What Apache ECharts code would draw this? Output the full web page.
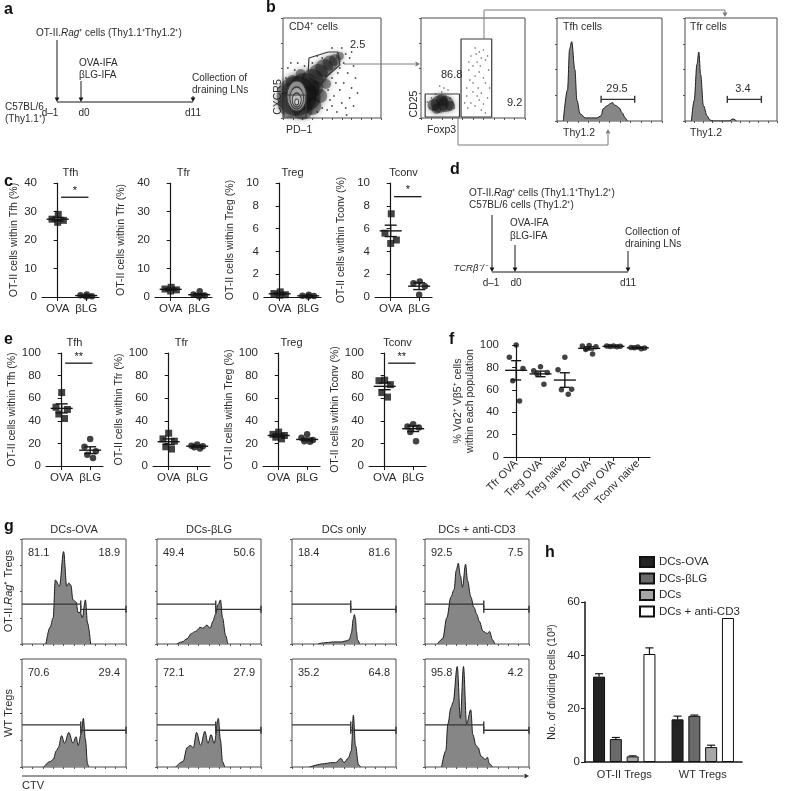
<!DOCTYPE html>
<html><head><meta charset="utf-8">
<script src="https://cdn.jsdelivr.net/npm/echarts@6/dist/echarts.min.js"></script>
<style>html,body{margin:0;padding:0;background:#fff}#c{width:788px;height:791px}</style>
</head><body><div id="c"></div>
<script>
const F = '"Liberation Sans", Arial, Helvetica, sans-serif';
const TXT = '#2b2b2b', INK = '#161616';

/* ================= DATA ================= */
/* panel c */
const cCats = ['OVA', 'βLG'];
const cTitles = ['Tfh', 'Tfr', 'Treg', 'Tconv'];
const cYNames = ['OT-II cells within Tfh (%)', 'OT-II cells within Tfr (%)', 'OT-II cells within Treg (%)', 'OT-II cells within Tconv (%)'];
const cYMax = [40, 40, 10, 10];
const cYStep = [10, 10, 2, 2];
const cTfhOVA = [29.0, 27.3, 26.9, 26.2];
const cTfhBLG = [0.9, 0.6, 0.3, 0.2];
const cTfrOVA = [3.4, 2.8, 2.5, 2.1];
const cTfrBLG = [2.0, 0.9, 0.5, 0.2];
const cTregOVA = [0.45, 0.3, 0.2, 0.15];
const cTregBLG = [0.2, 0.1, 0.08, 0.05];
const cTconvOVA = [7.3, 5.6, 5.0, 4.7];
const cTconvBLG = [1.35, 1.2, 0.95, 0.2];
const cMean = [[27.3, 0.5], [2.7, 0.8], [0.28, 0.1], [5.8, 0.95]];
const cSem = [[0.6, 0.15], [0.3, 0.4], [0.07, 0.03], [0.5, 0.3]];
const cSigLabel = ['*', '', '', '*'];
const cSigY = [35, null, null, 8.8];

/* panel e */
const eYMax = [100, 100, 100, 100];
const eYStep = [20, 20, 20, 20];
const eTfhOVA = [65, 52, 50, 46, 42];
const eTfhBLG = [24, 17, 13, 10, 7];
const eTfrOVA = [29, 24, 22, 17, 15];
const eTfrBLG = [19, 18, 17.5, 16.5, 15.5];
const eTregOVA = [30, 28, 27, 25.5, 24];
const eTregBLG = [28, 25, 23, 22, 21.5];
const eTconvOVA = [76, 75.5, 72, 65, 61];
const eTconvBLG = [37, 35, 34, 30, 22];
const eMean = [[51, 14], [21.5, 17.5], [27, 23.5], [70.5, 33]];
const eSem = [[4, 3], [2.5, 0.7], [1.2, 1.2], [3, 2.5]];
const eSigLabel = ['**', '', '', '**'];
const eSigY = [91, null, null, 91];

/* panel f */
const fCats = ['Tfr OVA', 'Treg OVA', 'Treg naive', 'Tfh OVA', 'Tconv OVA', 'Tconv naive'];
const fTfrOVA = [100, 89, 79, 68, 50];
const fTregOVA = [80.5, 77, 75.5, 74, 65];
const fTregNaive = [89, 78, 60.5, 60, 56];
const fTfhOVA = [99.5, 99, 98.5, 96, 92];
const fTconvOVA = [99.2, 99, 98.8, 98.6, 98.4];
const fTconvNaive = [98.2, 97.8, 97.4, 97.6, 96.6];
const fMean = [77.4, 74.2, 68.7, 97, 98.8, 97.5];
const fSem = [8.6, 2.5, 6.5, 1.4, 0.2, 0.3];

/* panel h */
const hCats = ['OT-II Tregs', 'WT Tregs'];
const hNames = ['DCs-OVA', 'DCs-βLG', 'DCs', 'DCs + anti-CD3'];
const hOVA = [32, 16];
const hBLG = [8.6, 17.3];
const hDC = [2.1, 5.6];
const hCD3 = [40.5, 54];
const hOVAErr = [1.1, 1.2];
const hBLGErr = [0.6, 0.3];
const hDCErr = [0.2, 0.7];
const hCD3Err = [2.3, 0];

/* panel g histograms: [CTV %, count %] */
const gColTitles = ['DCs-OVA', 'DCs-βLG', 'DCs only', 'DCs + anti-CD3'];
const gOtOVA = [[23,0],[27,16],[30,25],[32,61],[36,55],[40,88],[43,55],[45,58],[47,56],[49,42],[52,40],[54,30],[56,30],[58,25],[61,42],[63,20],[66,0]];
const gOtBLG = [[19,0],[24,2],[29,5],[33,10],[37,12],[40,14],[41,16],[44,15],[48,18],[51,15],[54,22],[56,28],[59,38],[61,42],[63,25],[66,8],[68,0]];
const gOtDC = [[25,0],[30,1],[40,2],[48,2],[52,3],[55,4],[57,10],[59,24],[60,28],[61,24],[62,12],[63,4],[65,0]];
const gOtCD3 = [[12,0],[17,5],[21,25],[25,45],[28,52],[30,70],[32,77],[34,65],[36,54],[39,76],[41,60],[44,45],[47,35],[50,28],[52,22],[56,12],[60,10],[62,12],[65,4],[67,0]];
const gWtOVA = [[21,0],[27,5],[30,7],[33,15],[35,18],[38,29],[41,22],[45,32],[49,22],[52,28],[54,20],[57,31],[59,45],[61,25],[63,3],[64,0]];
const gWtBLG = [[18,0],[25,5],[29,18],[32,20],[35,18],[38,32],[42,20],[46,33],[49,22],[52,30],[55,22],[59,45],[61,25],[63,5],[65,0]];
const gWtDC = [[17,0],[31,3],[37,4],[42,4],[47,8],[50,4],[54,8],[57,15],[59,48],[61,20],[64,2],[66,0]];
const gWtCD3 = [[16,0],[20,15],[22,40],[25,55],[27,60],[31,93],[34,45],[37,93],[40,40],[44,53],[46,30],[49,20],[51,18],[54,10],[58,7],[60,9],[62,3],[65,0]];
const gLeftPct = ['81.1', '49.4', '18.4', '92.5', '70.6', '72.1', '35.2', '95.8'];
const gRightPct = ['18.9', '50.6', '81.6', '7.5', '29.4', '27.9', '64.8', '4.2'];
const gGateSplit = 56.5;
const gGateY = [[38, 33], [39, 34]];

/* panel b */
const bTfhHist = [[6,0],[10,30],[12,70],[14,77],[17,50],[19,20],[22,7],[27,3],[33,3],[38,3],[42,5],[44,12],[48,15],[51,17],[53,18],[54,16],[56,15],[59,13],[62,8],[65,3],[67,0]];
const bTfrHist = [[7,0],[10,20],[13,55],[15,67],[17,45],[20,15],[24,5],[27,1],[31,0],[48,0],[52,2],[56,0]];
const bTfhGate = [[42,21],[74,21]];
const bTfrGate = [[46,21],[83,21]];
const bCd4Blobs = [[14,22,40],[22,30,30],[8,14,26],[26,20,24],[30,38,22],[36,44,20],[42,50,18],[48,55,15],[53,58,12],[30,12,18],[38,22,14],[10,36,14],[18,44,10],[44,34,10],[58,62,8],[20,8,20],[6,28,14],[34,30,14]];
const bCd4Contours = [[14,22,10,15],[14,20,7,11],[14,18,4.5,7],[14,16,2,3]];
const bCd4Dots = [[45,8],[50,12],[55,6],[60,15],[64,10],[68,20],[52,22],[58,28],[62,35],[70,30],[48,18],[66,45],[72,52],[56,45],[62,55],[68,60],[40,60],[30,55],[22,52],[15,55],[12,48],[35,62],[50,70],[60,70],[74,40],[76,25],[44,42],[50,40],[3,40],[5,50],[8,55],[46,28],[54,35],[40,10],[35,6],[65,3],[72,12],[58,50],[64,64],[70,66]];
const bCd4Gate = [[25.5,43],[26.5,60],[46,66],[56,66],[58,53],[38,36],[25.5,43]];
const bCd4Rect = [[1,1],[23.5,1],[23.5,23],[1,23],[1,1]];
const bFoxBlobs = [[18,14,18],[24,14,16],[12,13,12],[20,18,12],[28,12,10],[15,9,10]];
const bFoxDots = [[8,10],[10,20],[14,24],[20,26],[24,22],[28,20],[30,16],[32,10],[6,16],[26,28],[22,30],[18,32],[45,10],[48,15],[52,12],[56,18],[60,14],[64,20],[44,22],[50,26],[55,30],[58,25],[62,35],[47,38],[52,42],[56,46],[60,40],[65,48],[50,52],[54,56],[58,60],[48,62],[56,66],[52,70],[62,58],[44,30],[46,48],[66,30],[42,15],[58,8],[62,5],[54,22],[50,35],[57,52],[53,64],[60,68],[64,62],[46,56]];
const bFoxRectL = [[4,1],[37,1],[37,24],[4,24],[4,1]];
const bFoxRectR = [[38.5,1],[68,1],[68,79],[38.5,79],[38.5,1]];

/* ================= BUILD ================= */
const grids = [], xAxes = [], yAxes = [], series = [], G = [];
function addGrid(l, t, w, h, extra) {
  grids.push(Object.assign({left: l, top: t, width: w, height: h, containLabel: false, outerBoundsMode: 'none'}, extra || {}));
  return grids.length - 1;
}
function txt(x, y, text, o) {
  o = o || {};
  const font = (o.italic ? 'italic ' : '') + (o.bold ? 'bold ' : '') + (o.size || 11) + 'px ' + F;
  const st = {text: text, font: font, fill: o.color || TXT, align: o.align || 'left', verticalAlign: o.va || 'middle',
    textAlign: o.align || 'left', textVerticalAlign: o.va || 'middle'};
  if (o.rich) st.rich = o.rich;
  return {type: 'text', x: x, y: y, rotation: o.rot || 0, style: st, z: 20};
}
function richStyles(size) {
  return {n: {fontSize: size, fontFamily: F, fill: TXT, color: TXT},
          i: {fontSize: size, fontFamily: F, fontStyle: 'italic', fill: TXT, color: TXT}};
}
function ln(x1, y1, x2, y2, c, w) {
  return {type: 'line', shape: {x1: x1, y1: y1, x2: x2, y2: y2}, style: {stroke: c || INK, lineWidth: w || 1}, z: 15};
}
function head(x, y, dir, c) {
  const s = 4.5, h = 2.4;
  let p;
  if (dir === 'down') p = [[x - h, y - s], [x + h, y - s], [x, y]];
  else if (dir === 'up') p = [[x - h, y + s], [x + h, y + s], [x, y]];
  else p = [[x - s, y - h], [x - s, y + h], [x, y]];
  return {type: 'polygon', shape: {points: p}, style: {fill: c || INK}, z: 15};
}

/* ---------- dot plots (c, e) ---------- */
const JIT4 = [0.02, -0.2, 0.2, 0];
const JIT5 = [0, -0.2, 0.2, -0.1, 0.1];
function meanSem(halfM, halfC) {
  return function (params, api) {
    const x = api.value(0), m = api.value(1), s = api.value(2);
    const c = api.coord([x, m]), t = api.coord([x, m + s]), b = api.coord([x, Math.max(m - s, 0)]);
    const st = {stroke: INK, lineWidth: 1.4};
    const ch = [{type: 'line', shape: {x1: c[0] - halfM, y1: c[1], x2: c[0] + halfM, y2: c[1]}, style: st}];
    if (s > 0) {
      ch.push({type: 'line', shape: {x1: c[0], y1: t[1], x2: c[0], y2: b[1]}, style: st});
      ch.push({type: 'line', shape: {x1: c[0] - halfC, y1: t[1], x2: c[0] + halfC, y2: t[1]}, style: st});
      ch.push({type: 'line', shape: {x1: c[0] - halfC, y1: b[1], x2: c[0] + halfC, y2: b[1]}, style: st});
    }
    return {type: 'group', children: ch};
  };
}
function sigRender(label) {
  return function (params, api) {
    const a = api.coord([api.value(0), api.value(2)]), b = api.coord([api.value(1), api.value(2)]);
    return {type: 'group', children: [
      {type: 'line', shape: {x1: a[0], y1: a[1], x2: b[0], y2: b[1]}, style: {stroke: INK, lineWidth: 1.3}},
      {type: 'text', x: (a[0] + b[0]) / 2, y: a[1] - 1, style: {text: label, font: '11px ' + F, fill: INK, align: 'center', verticalAlign: 'bottom', textAlign: 'center', textVerticalAlign: 'bottom'}}
    ]};
  };
}
function axisBase() {
  return {splitLine: {show: false}, axisLine: {show: true, lineStyle: {color: INK, width: 1.2}},
    axisTick: {show: true, length: 4, lineStyle: {color: INK, width: 1}},
    axisLabel: {fontSize: 11.5, color: TXT, fontFamily: F, margin: 5}};
}
function dotPlot(rect, title, yName, yMax, yStep, ova, blg, means, sems, sigLabel, sigY, nameGap) {
  const gi = addGrid(rect[0], rect[1], rect[2], rect[3]);
  const xa = axisBase();
  Object.assign(xa, {gridIndex: gi, type: 'value', min: -0.55, max: 1.45});
  xa.axisTick = {show: true, length: 4, customValues: [0, 1], lineStyle: {color: INK}};
  xa.axisLabel = {fontSize: 11.5, color: TXT, fontFamily: F, margin: 6, customValues: [0, 1], formatter: function (v) { return cCats[Math.round(v)]; }};
  xAxes.push(xa);
  const ya = axisBase();
  Object.assign(ya, {gridIndex: gi, type: 'value', min: 0, max: yMax, interval: yStep, name: yName, nameLocation: 'middle', nameGap: nameGap,
    nameTextStyle: {fontSize: 10.5, color: TXT, fontFamily: F}});
  yAxes.push(ya);
  const j1 = ova.length === 4 ? JIT4 : JIT5, j2 = blg.length === 4 ? JIT4 : JIT5;
  series.push({type: 'scatter', xAxisIndex: gi, yAxisIndex: gi, symbol: 'rect', symbolSize: 7, itemStyle: {color: '#141414'},
    data: ova.map(function (v, i) { return [j1[i], v]; }), z: 3, silent: true});
  series.push({type: 'scatter', xAxisIndex: gi, yAxisIndex: gi, symbol: 'circle', symbolSize: 6.5, itemStyle: {color: '#141414'},
    data: blg.map(function (v, i) { return [1 + j2[i], v]; }), z: 3, silent: true});
  series.push({type: 'custom', xAxisIndex: gi, yAxisIndex: gi, renderItem: meanSem(11, 6), z: 4, silent: true,
    data: means.map(function (m, i) { return [i, m, sems[i]]; })});
  if (sigY != null) {
    series.push({type: 'custom', xAxisIndex: gi, yAxisIndex: gi, renderItem: sigRender(sigLabel), z: 4, silent: true,
      data: [[0.12, 1.08, sigY]]});
  }
  G.push(txt(rect[0] + rect[2] / 2, rect[1] - 10, title, {align: 'center', size: 11}));
}
const cRects = [[42, 183, 57, 114], [155, 183, 57, 114], [264, 183, 57, 114], [375, 183, 57, 114]];
const cPts = [[cTfhOVA, cTfhBLG], [cTfrOVA, cTfrBLG], [cTregOVA, cTregBLG], [cTconvOVA, cTconvBLG]];
for (let k = 0; k < 4; k++) {
  dotPlot(cRects[k], cTitles[k], cYNames[k], cYMax[k], cYStep[k], cPts[k][0], cPts[k][1],
    cMean[k], cSem[k], cSigLabel[k], cSigY[k], k === 0 ? 22 : 28);
}
const eRects = [[46, 353, 57, 113], [153, 353, 57, 113], [263, 353, 57, 113], [369, 353, 57, 113]];
const ePts = [[eTfhOVA, eTfhBLG], [eTfrOVA, eTfrBLG], [eTregOVA, eTregBLG], [eTconvOVA, eTconvBLG]];
for (let k = 0; k < 4; k++) {
  dotPlot(eRects[k], cTitles[k], cYNames[k], eYMax[k], eYStep[k], ePts[k][0], ePts[k][1],
    eMean[k], eSem[k], eSigLabel[k], eSigY[k], 28);
}

/* ---------- panel f ---------- */
(function () {
  const gi = addGrid(504, 345, 146, 112);
  const xa = axisBase();
  Object.assign(xa, {gridIndex: gi, type: 'value', min: -0.5, max: 5.5});
  xa.axisTick = {show: true, length: 4, customValues: [0, 1, 2, 3, 4, 5], lineStyle: {color: INK}};
  xa.axisLabel = {fontSize: 11, color: TXT, fontFamily: F, margin: 5, rotate: 45, customValues: [0, 1, 2, 3, 4, 5],
    formatter: function (v) { return fCats[Math.round(v)]; }};
  xAxes.push(xa);
  const ya = axisBase();
  Object.assign(ya, {gridIndex: gi, type: 'value', min: 0, max: 100, interval: 20,
    name: '% Vα2⁺ Vβ5⁺ cells\nwithin each population', nameLocation: 'middle', nameGap: 27,
    nameTextStyle: {fontSize: 10.5, color: TXT, fontFamily: F, lineHeight: 12}});
  yAxes.push(ya);
  const groups = [fTfrOVA, fTregOVA, fTregNaive, fTfhOVA, fTconvOVA, fTconvNaive];
  const J = [0, -0.28, 0.28, -0.14, 0.14];
  const pts = [];
  groups.forEach(function (g, gIdx) { g.forEach(function (v, i) { pts.push([gIdx + J[i], v]); }); });
  series.push({type: 'scatter', xAxisIndex: gi, yAxisIndex: gi, symbolSize: 5.5, itemStyle: {color: '#141414'}, data: pts, z: 3, silent: true});
  series.push({type: 'custom', xAxisIndex: gi, yAxisIndex: gi, renderItem: meanSem(11, 5), z: 4, silent: true,
    data: fMean.map(function (m, i) { return [i, m, fSem[i]]; })});
})();

/* ---------- panel h ---------- */
(function () {
  const gi = addGrid(585, 602, 157, 160);
  const xa = axisBase();
  Object.assign(xa, {gridIndex: gi, type: 'category', data: hCats});
  xa.axisTick = {show: false};
  xa.axisLabel = {fontSize: 11, color: TXT, fontFamily: F, margin: 7};
  xa.axisLine = {show: true, lineStyle: {color: INK, width: 1.5}};
  xAxes.push(xa);
  const ya = axisBase();
  Object.assign(ya, {gridIndex: gi, type: 'value', min: 0, max: 60, interval: 20,
    name: 'No. of dividing cells (10³)', nameLocation: 'middle', nameGap: 27,
    nameTextStyle: {fontSize: 10.5, color: TXT, fontFamily: F}});
  ya.axisLine = {show: true, lineStyle: {color: INK, width: 1.5}};
  yAxes.push(ya);
  const vals = [hOVA, hBLG, hDC, hCD3], errs = [hOVAErr, hBLGErr, hDCErr, hCD3Err];
  const cols = ['#232323', '#6a6a6a', '#a6a6a6', '#ffffff'];
  vals.forEach(function (v, s) {
    series.push({type: 'bar', name: hNames[s], xAxisIndex: gi, yAxisIndex: gi, data: v, barWidth: 12, barGap: '40%',
      itemStyle: {color: cols[s], borderColor: '#111', borderWidth: 1}, silent: true});
  });
  errs.forEach(function (e, s) {
    series.push({type: 'custom', xAxisIndex: gi, yAxisIndex: gi, silent: true, z: 5,
      data: e.map(function (ev, i) { return [i, vals[s][i], ev]; }),
      renderItem: function (params, api) {
        const p = api.coord([api.value(0), api.value(1)]), q = api.coord([api.value(0), api.value(1) + api.value(2)]);
        const x = p[0] + (s - 1.5) * 16.8;
        if (api.value(2) <= 0) return {type: 'group', children: []};
        return {type: 'group', children: [
          {type: 'line', shape: {x1: x, y1: p[1], x2: x, y2: q[1]}, style: {stroke: INK, lineWidth: 1.2}},
          {type: 'line', shape: {x1: x - 4, y1: q[1], x2: x + 4, y2: q[1]}, style: {stroke: INK, lineWidth: 1.2}}]};
      }});
  });
})();

/* ---------- flow boxes ---------- */
function flowGrid(l, t, w, h) {
  const gi = addGrid(l, t, w, h, {show: true, borderColor: '#4a4a4a', borderWidth: 1});
  const base = {gridIndex: gi, type: 'value', min: 0, max: 100, splitLine: {show: false}, axisLine: {show: false},
    axisLabel: {show: false}, axisTick: {show: true, inside: false, length: 2, lineStyle: {color: '#555'}}};
  xAxes.push(Object.assign({}, base, {interval: 10}));
  yAxes.push(Object.assign({}, base, {interval: 25}));
  return gi;
}
function histSeries(gi, data) {
  series.push({type: 'line', xAxisIndex: gi, yAxisIndex: gi, data: data, symbol: 'none', smooth: 0.35, smoothMonotone: 'x', silent: true,
    lineStyle: {color: '#1e1e1e', width: 1}, areaStyle: {color: '#868686', opacity: 1}, z: 2});
}
function gateSeries(gi, data, capL) {
  series.push({type: 'line', xAxisIndex: gi, yAxisIndex: gi, data: data, clip: false, silent: true,
    symbol: function (v, p) { return (p.dataIndex === 0 && !capL) ? 'none' : 'rect'; }, symbolSize: [1.4, 7],
    itemStyle: {color: '#333'}, lineStyle: {color: '#333', width: 1.4}, z: 6});
}
function polySeries(gi, data) {
  series.push({type: 'line', xAxisIndex: gi, yAxisIndex: gi, data: data, symbol: 'none', clip: false, silent: true,
    lineStyle: {color: '#3a3a3a', width: 1.2}, z: 6});
}

/* panel g */
const gHists = [gOtOVA, gOtBLG, gOtDC, gOtCD3, gWtOVA, gWtBLG, gWtDC, gWtCD3];
const gColX = [22, 157, 292, 425];
const gRowY = [[539, 105], [659, 108]];
for (let r = 0; r < 2; r++) {
  for (let c = 0; c < 4; c++) {
    const idx = r * 4 + c;
    const gi = flowGrid(gColX[c], gRowY[r][0], 104, gRowY[r][1]);
    histSeries(gi, gHists[idx]);
    gateSeries(gi, [[0, gGateY[r][0]], [gGateSplit, gGateY[r][0]]], false);
    gateSeries(gi, [[gGateSplit, gGateY[r][1]], [100, gGateY[r][1]]], true);
    G.push(txt(gColX[c] + 6, gRowY[r][0] + 14, gLeftPct[idx], {size: 11}));
    G.push(txt(gColX[c] + 98, gRowY[r][0] + 14, gRightPct[idx], {size: 11, align: 'right'}));
  }
}
gColTitles.forEach(function (t, c) { G.push(txt(gColX[c] + 52, 530, t, {align: 'center', size: 11})); });

/* panel b */
(function () {
  const g1 = flowGrid(283, 18, 98, 100);
  series.push({type: 'scatter', xAxisIndex: g1, yAxisIndex: g1, silent: true, z: 2,
    data: bCd4Blobs, symbolSize: function (v) { return v[2]; },
    itemStyle: {color: 'rgba(20,20,20,0.55)', shadowBlur: 7, shadowColor: 'rgba(0,0,0,0.6)'}});
  series.push({type: 'scatter', xAxisIndex: g1, yAxisIndex: g1, silent: true, z: 2, data: bCd4Dots, symbolSize: 1.8,
    itemStyle: {color: '#222'}});
  series.push({type: 'custom', xAxisIndex: g1, yAxisIndex: g1, silent: true, z: 3, data: bCd4Contours,
    renderItem: function (params, api) {
      const p = api.coord([api.value(0), api.value(1)]);
      const s = api.size([api.value(2), api.value(3)]);
      const shades = ['#8d8d8d', '#a5a5a5', '#bdbdbd', '#d0d0d0'];
      return {type: 'circle', shape: {cx: 0, cy: 0, r: s[0]}, x: p[0], y: p[1], scaleY: s[1] / s[0],
        style: {fill: shades[params.dataIndex], stroke: '#3c3c3c', lineWidth: 0.8, strokeNoScale: true}};
    }});
  polySeries(g1, bCd4Gate);
  polySeries(g1, bCd4Rect);

  const g2 = flowGrid(421, 18, 104, 100);
  series.push({type: 'scatter', xAxisIndex: g2, yAxisIndex: g2, silent: true, z: 2,
    data: bFoxBlobs, symbolSize: function (v) { return v[2]; },
    itemStyle: {color: 'rgba(20,20,20,0.6)', shadowBlur: 6, shadowColor: 'rgba(0,0,0,0.5)'}});
  series.push({type: 'scatter', xAxisIndex: g2, yAxisIndex: g2, silent: true, z: 2, data: bFoxDots, symbolSize: 1.6,
    itemStyle: {color: '#333'}});
  polySeries(g2, bFoxRectL);
  polySeries(g2, bFoxRectR);

  const g3 = flowGrid(557, 18, 105, 103);
  histSeries(g3, bTfhHist);
  gateSeries(g3, bTfhGate, true);
  const g4 = flowGrid(685, 18, 92, 103);
  histSeries(g4, bTfrHist);
  gateSeries(g4, bTfrGate, true);
})();

/* ================= GRAPHIC (text, schematics) ================= */
G.push(txt(4, 10, 'a', {bold: true, size: 16, color: '#111'}));
G.push(txt(266, 8, 'b', {bold: true, size: 16, color: '#111'}));
G.push(txt(4, 182, 'c', {bold: true, size: 16, color: '#111'}));
G.push(txt(450, 170, 'd', {bold: true, size: 16, color: '#111'}));
G.push(txt(4, 340, 'e', {bold: true, size: 16, color: '#111'}));
G.push(txt(449, 340, 'f', {bold: true, size: 16, color: '#111'}));
G.push(txt(4, 527, 'g', {bold: true, size: 16, color: '#111'}));
G.push(txt(545, 553, 'h', {bold: true, size: 16, color: '#111'}));

/* panel a schematic */
const SF = 10;
G.push(txt(36, 33, '{n|OT-II.}{i|Rag}{n|⁺ cells (Thy1.1⁺Thy1.2⁺)}', {rich: richStyles(SF)}));
G.push(ln(57, 40, 57, 98)); G.push(head(57, 102, 'down'));
G.push(txt(79, 63, 'OVA-IFA', {size: SF})); G.push(txt(79, 75, 'βLG-IFA', {size: SF}));
G.push(ln(81, 81, 81, 98)); G.push(head(81, 102, 'down'));
G.push(txt(192, 78, 'Collection of', {size: SF})); G.push(txt(192, 90, 'draining LNs', {size: SF}));
G.push(ln(193, 96, 193, 99)); G.push(head(193, 102, 'down'));
G.push(ln(57, 102, 193, 102));
G.push(txt(5, 107, 'C57BL/6', {size: SF})); G.push(txt(5, 119, '(Thy1.1⁺)', {size: SF}));
G.push(txt(50, 113, 'd–1', {align: 'center', size: SF})); G.push(txt(84, 113, 'd0', {align: 'center', size: SF})); G.push(txt(193, 113, 'd11', {align: 'center', size: SF}));

/* panel d schematic */
G.push(txt(469, 193, '{n|OT-II.}{i|Rag}{n|⁺ cells (Thy1.1⁺Thy1.2⁺)}', {rich: richStyles(SF)}));
G.push(txt(469, 205, 'C57BL/6 cells (Thy1.2⁺)', {size: SF}));
G.push(ln(492, 215, 492, 268)); G.push(head(492, 272, 'down'));
G.push(txt(510, 223, 'OVA-IFA', {size: SF})); G.push(txt(510, 236, 'βLG-IFA', {size: SF}));
G.push(ln(515, 245, 515, 268)); G.push(head(515, 272, 'down'));
G.push(txt(625, 232, 'Collection of', {size: SF})); G.push(txt(625, 244, 'draining LNs', {size: SF}));
G.push(ln(628, 251, 628, 268)); G.push(head(628, 272, 'down'));
G.push(ln(492, 272, 628, 272));
G.push(txt(487, 268, 'TCRβ⁻/⁻', {italic: true, align: 'right', size: 9.5}));
G.push(txt(491, 283, 'd–1', {align: 'center', size: SF})); G.push(txt(516, 283, 'd0', {align: 'center', size: SF})); G.push(txt(628, 283, 'd11', {align: 'center', size: SF}));

/* panel b texts & connectors */
G.push(txt(289, 27, 'CD4⁺ cells', {size: 10.5}));
G.push(txt(350, 45, '2.5', {size: 11}));
G.push(txt(278, 97, 'CXCR5', {rot: Math.PI / 2, align: 'center', size: 10.5}));
G.push(txt(286, 130, 'PD–1', {size: 10.5}));
G.push(txt(441, 75, '86.8', {size: 11}));
G.push(txt(507, 103, '9.2', {size: 11}));
G.push(txt(414, 104, 'CD25', {rot: Math.PI / 2, align: 'center', size: 10.5}));
G.push(txt(427, 130, 'Foxp3', {size: 10.5}));
G.push(txt(563, 27, 'Tfh cells', {size: 10.5}));
G.push(txt(617, 89, '29.5', {align: 'center', size: 11}));
G.push(txt(563, 133, 'Thy1.2', {size: 10.5}));
G.push(txt(690, 27, 'Tfr cells', {size: 10.5}));
G.push(txt(743, 89, '3.4', {align: 'center', size: 11}));
G.push(txt(690, 133, 'Thy1.2', {size: 10.5}));
const CON = '#7a7a7a';
G.push(ln(344, 64, 415, 64, CON)); G.push(head(420, 64, 'right', CON));
G.push(ln(484, 39, 484, 10, CON)); G.push(ln(484, 10, 725, 10, CON)); G.push(ln(725, 10, 725, 13, CON)); G.push(head(725, 17, 'down', CON));
G.push(ln(458, 118, 458, 145, CON)); G.push(ln(458, 145, 608, 145, CON)); G.push(ln(608, 145, 608, 134, CON)); G.push(head(608, 129, 'up', CON));

/* panel g texts */
G.push(txt(9, 591, '{n|OT-II.}{i|Rag}{n|⁺ Tregs}', {rot: Math.PI / 2, align: 'center', rich: richStyles(11)}));
G.push(txt(9, 713, 'WT Tregs', {rot: Math.PI / 2, align: 'center', size: 11}));
G.push(ln(22, 776, 524, 776, '#333', 1)); G.push(head(529, 776, 'right', '#333'));
G.push(txt(22, 786, 'CTV', {size: 11}));

const option = {
  animation: false,
  backgroundColor: '#ffffff',
  textStyle: {fontFamily: F},
  grid: grids, xAxis: xAxes, yAxis: yAxes, series: series,
  legend: {show: true, orient: 'vertical', left: 634, top: 551, itemWidth: 14, itemHeight: 10, itemGap: 4.5,
    icon: 'rect', data: hNames, selectedMode: false, textStyle: {fontSize: 11.5, color: TXT, fontFamily: F}},
  graphic: {elements: G}
};
const chart = echarts.init(document.getElementById('c'), null, {renderer: 'canvas'});
chart.setOption(option);
</script></body></html>
